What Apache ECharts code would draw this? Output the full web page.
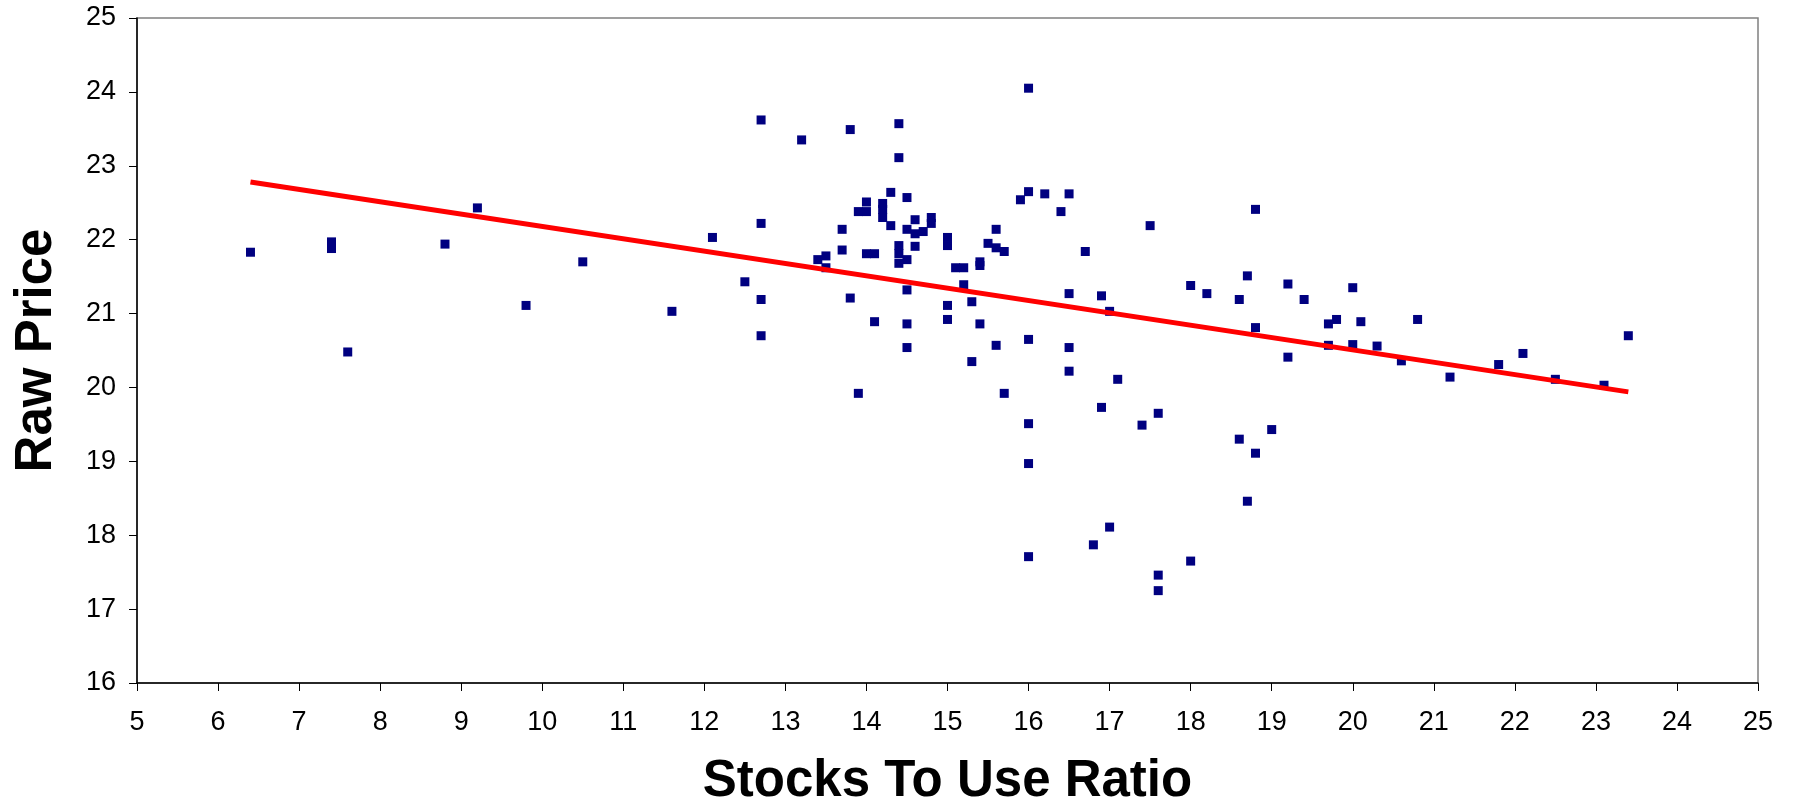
<!DOCTYPE html>
<html>
<head>
<meta charset="utf-8">
<script src="https://cdn.jsdelivr.net/npm/echarts@6/dist/echarts.min.js"></script>
<style>
html,body{margin:0;padding:0;background:#fff;}
#chart{width:1795px;height:800px;}
</style>
</head>
<body>
<div id="chart"></div>
<script>
// Stocks to use ratio (x) and raw price (y)
const stocksToUse = [
  6.4, 7.4, 7.4, 7.6, 8.8, 9.2, 9.8, 10.5, 11.6,
  12.7, 13.2, 13.8, 14.4, 14.4, 16.0, 16.0, 16.2, 16.5, 15.9, 16.4, 17.5,
  12.1, 12.7, 12.5, 12.7, 12.7, 13.4, 13.5, 13.5, 13.7, 13.7, 13.8,
  13.9, 14.0, 14.0, 14.0, 14.1, 14.1, 13.9, 14.2, 14.2, 14.2, 14.3, 14.3,
  14.5, 14.4, 14.4, 14.4, 14.5, 14.5, 14.6, 14.6, 14.6, 14.7, 14.8, 14.8,
  14.5, 14.5, 14.5, 15.0, 15.0, 15.1, 15.2, 15.2, 15.0, 15.0, 15.3, 15.3,
  15.4, 15.4, 15.4, 15.5, 15.6, 15.6, 15.7, 15.6, 15.7, 16.0, 16.5, 16.5,
  16.5, 16.7, 16.9, 17.0, 17.1,
  18.8, 18.7, 18.0, 18.2, 18.6, 19.2, 19.4, 20.0, 18.8, 19.7, 19.8, 20.1,
  20.8, 23.4, 19.7, 20.0, 20.3, 19.2, 20.6, 21.2, 21.8, 22.1, 22.5, 23.1,
  16.9, 17.6, 17.4, 16.0, 18.6, 19.0, 18.8, 16.0, 18.7, 17.0, 16.8, 16.0,
  18.0, 17.6, 17.6
];
const rawPrice = [
  21.83, 21.97, 21.88, 20.48, 21.94, 22.43, 21.11, 21.70, 21.03,
  23.62, 23.35, 23.49, 23.57, 23.11, 24.05, 22.65, 22.62, 22.62, 22.54, 22.38, 22.19,
  22.03, 22.22, 21.43, 21.19, 20.70, 21.73, 21.78, 21.62, 22.14, 21.86, 21.21,
  22.38, 22.38, 22.51, 21.81, 21.81, 20.89, 19.92, 22.49, 22.41, 22.30, 22.64, 22.19,
  22.57, 21.92, 21.81, 21.68, 22.14, 21.73, 22.27, 22.08, 21.91, 22.11, 22.30, 22.22,
  21.32, 20.86, 20.54, 22.03, 21.92, 21.62, 21.62, 21.39, 21.11, 20.92, 21.16, 20.35,
  21.70, 21.65, 20.86, 21.95, 22.14, 21.89, 21.84, 20.57, 19.92, 20.65, 21.27, 20.54,
  20.22, 21.84, 21.24, 21.03, 20.11,
  22.41, 21.51, 21.38, 21.27, 21.19, 21.40, 21.19, 21.35, 20.81, 20.86, 20.92, 20.89,
  20.92, 20.70, 20.57, 20.58, 20.56, 20.41, 20.36, 20.14, 20.31, 20.46, 20.11, 20.03,
  19.73, 19.65, 19.49, 19.51, 19.30, 19.43, 19.11, 18.97, 18.46, 18.11, 17.87, 17.71,
  17.65, 17.46, 17.25
];
// Trend line end points
const trendX = [6.4, 23.4];
const trendY = [22.78, 19.94];

const xTicks = {min: 5, max: 25, interval: 1};
const yTicks = {min: 16, max: 25, interval: 1};

const scatterData = stocksToUse.map((x, i) => [x, rawPrice[i]]);
const trendData = trendX.map((x, i) => [x, trendY[i]]);

const FONT = '"Liberation Sans", Arial, sans-serif';
const chart = echarts.init(document.getElementById('chart'), null, {renderer: 'canvas'});
chart.setOption({
  animation: false,
  backgroundColor: '#ffffff',
  grid: {
    left: 137, right: 37, top: 18, bottom: 117,
    containLabel: false,
    outerBoundsMode: 'none',
    show: true, borderColor: '#808080', borderWidth: 1.5, backgroundColor: '#ffffff'
  },
  xAxis: {
    type: 'value',
    min: xTicks.min, max: xTicks.max, interval: xTicks.interval,
    name: 'Stocks To Use Ratio',
    nameLocation: 'middle',
    nameGap: 73,
    nameTextStyle: {fontFamily: FONT, fontSize: 51, fontWeight: 'bold', color: '#000'},
    axisLine: {show: true, onZero: false, lineStyle: {color: '#000', width: 1.5}},
    axisTick: {show: true, inside: false, length: 8, lineStyle: {color: '#000', width: 1}},
    axisLabel: {fontFamily: FONT, fontSize: 27, color: '#000', margin: 26},
    splitLine: {show: false}
  },
  yAxis: {
    type: 'value',
    min: yTicks.min, max: yTicks.max, interval: yTicks.interval,
    name: 'Raw Price',
    nameLocation: 'middle',
    nameGap: 75,
    nameTextStyle: {fontFamily: FONT, fontSize: 51, fontWeight: 'bold', color: '#000'},
    axisLine: {show: true, onZero: false, lineStyle: {color: '#000', width: 1.5}},
    axisTick: {show: true, inside: false, length: 8, lineStyle: {color: '#000', width: 1}},
    axisLabel: {fontFamily: FONT, fontSize: 27, color: '#000', margin: 21},
    splitLine: {show: false}
  },
  series: [
    {
      type: 'scatter',
      data: scatterData,
      symbol: 'rect',
      symbolSize: 9,
      itemStyle: {color: '#000080', opacity: 1},
      z: 2
    },
    {
      type: 'line',
      data: trendData,
      symbol: 'none',
      lineStyle: {color: '#ff0000', width: 5},
      z: 3
    }
  ]
});
</script>
</body>
</html>
